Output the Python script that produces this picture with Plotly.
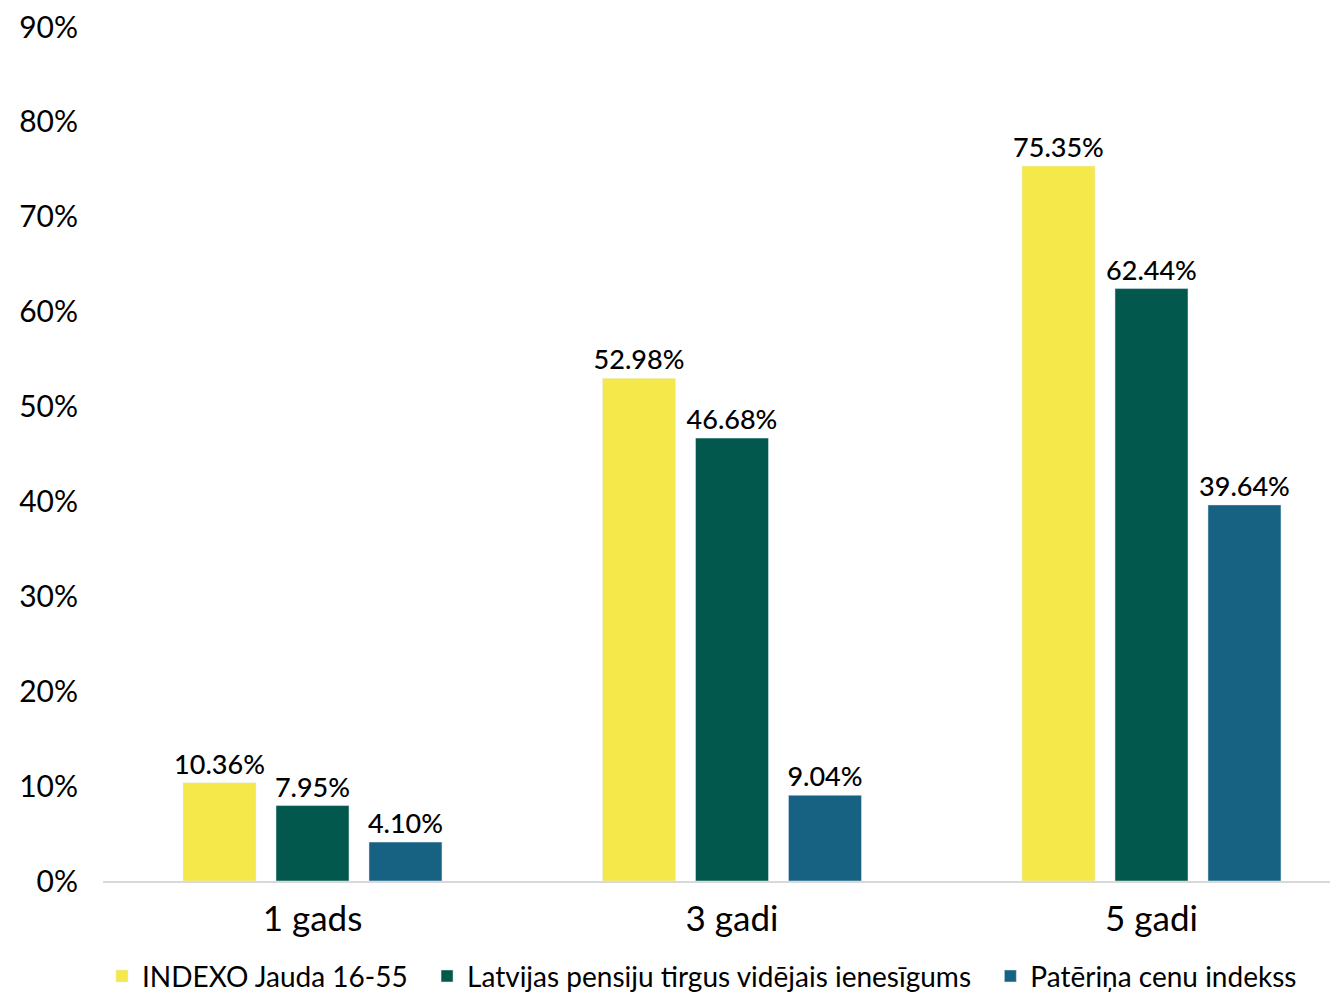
import plotly.graph_objects as go

categories = ["1 gads", "3 gadi", "5 gadi"]
series_names = ["INDEXO Jauda 16-55", "Latvijas pensiju tirgus vidējais ienesīgums", "Patēriņa cenu indekss"]
indexo = [10.36, 52.98, 75.35]
latvija = [7.95, 46.68, 62.44]
pci = [4.10, 9.04, 39.64]
colors = ["#F5E84A", "#03584E", "#176182"]
y_ticks = [0, 10, 20, 30, 40, 50, 60, 70, 80, 90]

NB = "\u00a0"
legend_names = [series_names[0] + NB * 2, series_names[1] + NB * 2, series_names[2]]

fig = go.Figure()
for name, vals, col in zip(legend_names, [indexo, latvija, pci], colors):
    fig.add_trace(go.Bar(
        x=categories, y=vals, name=name, marker_color=col,
        text=[f"{v:.2f}%" for v in vals], textposition="outside",
        textfont=dict(size=27, color="#000000", family="Lato", weight=500),
        constraintext="none", cliponaxis=False,
    ))

fig.update_layout(
    width=1330, height=985,
    barmode="group", bargap=0.335, bargroupgap=0.215,
    plot_bgcolor="white", paper_bgcolor="white",
    margin=dict(l=95, r=0, t=19, b=112, autoexpand=False),
    font=dict(family="Lato", color="#000000"),
    yaxis=dict(range=[0, 90.01], tickvals=y_ticks, ticktext=[f"{t}%" for t in y_ticks],
               showgrid=False, zeroline=False, showline=False, automargin=False,
               ticklabeloverflow="allow",
               tickfont=dict(size=30, color="#000000"), ticks="", ticklabelstandoff=24),
    xaxis=dict(showline=True, linecolor="#D9D9D9", linewidth=2, ticks="", automargin=False,
               range=[-0.4994, 2.4446], ticklabelstandoff=6,
               tickfont=dict(size=35, color="#000000"), showgrid=False),
    legend=dict(orientation="h", x=0.485, xanchor="center", yref="container", y=0.017, yanchor="middle",
                font=dict(size=28, color="#000000"), itemwidth=30, traceorder="normal",
                bgcolor="rgba(0,0,0,0)"),
    showlegend=True,
)
fig.write_html("out.html")
